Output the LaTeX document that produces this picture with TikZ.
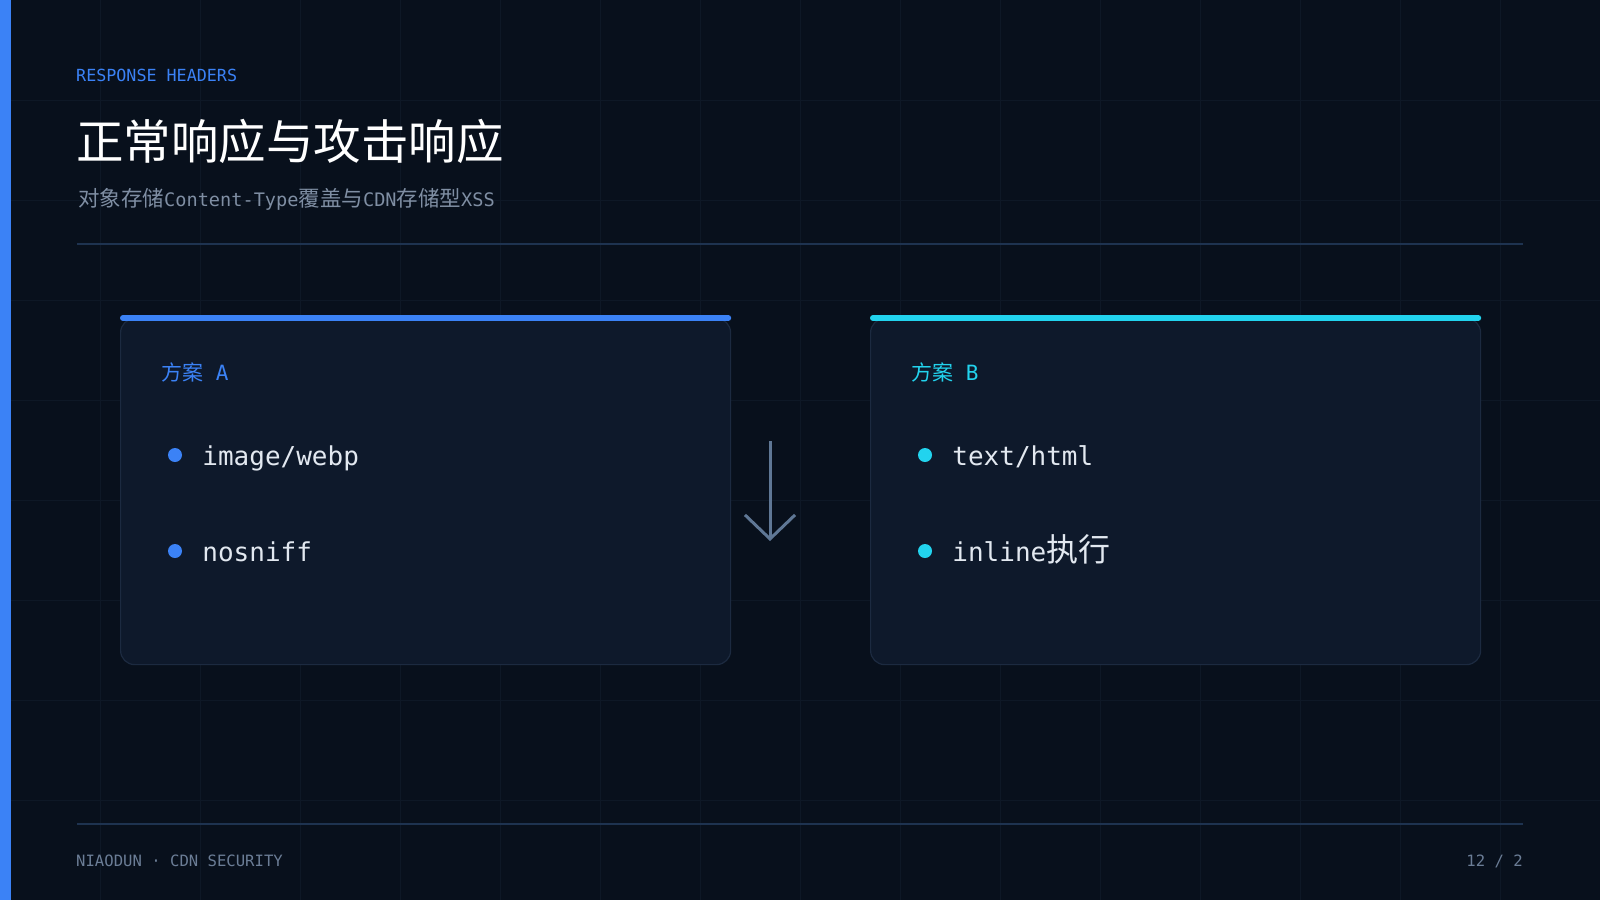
\documentclass[tikz,border=0pt]{standalone}
\usepackage{fontspec}
\setmonofont{DejaVu Sans Mono}
\newfontfamily\cjk{Noto Sans CJK SC}
\usetikzlibrary{arrows.meta, positioning}

\definecolor{pagebg}{HTML}{08101C}
\definecolor{gridcol}{HTML}{0E1826}
\definecolor{cardfill}{HTML}{0E192B}
\definecolor{cardline}{HTML}{1C2A40}
\definecolor{accentA}{HTML}{3B82F6}
\definecolor{accentB}{HTML}{22D3EE}
\definecolor{rulecol}{HTML}{1E3350}
\definecolor{subgray}{HTML}{7F8EA3}
\definecolor{footgray}{HTML}{6B7D96}
\definecolor{itemwhite}{HTML}{E2E8F0}
\definecolor{arrowcol}{HTML}{5F7795}

\newcommand{\fs}[1]{\fontsize{#1}{#1}\selectfont}

\begin{document}
\begin{tikzpicture}[x=1pt, y=-1pt,
    gridline/.style={gridcol, line width=1pt},
    cardbox/.style={draw=cardline, fill=cardfill, rounded corners=14pt, line width=1.2pt,
        minimum width=610pt, minimum height=346pt, anchor=north west},
    topbar/.style={line width=6pt, line cap=round, shorten <=3pt, shorten >=3pt},
    bulletdot/.style={circle, inner sep=0pt, minimum size=14pt},
    itemtext/.style={inner sep=0pt, anchor=base west, yshift=-10pt, text=itemwhite, font=\ttfamily\fs{26}},
    cardhead/.style={inner sep=0pt, anchor=west, font=\ttfamily\fs{21}},
    footnote/.style={inner sep=0pt, text=footgray, font=\ttfamily\fs{15.6}},
    flowarrow/.style={arrowcol, line width=3pt, -{Straight Barb[length=24pt, width=50pt]}}]
    \useasboundingbox (0,0) rectangle (1600,900);
    \fill[pagebg] (0,0) rectangle (1600,900);
    \foreach \x in {100,200,...,1500}
        \draw[gridline] (\x,0) -- (\x,900);
    \foreach \y in {100,200,...,800}
        \draw[gridline] (0,\y) -- (1600,\y);
    \fill[accentA] (0,0) rectangle (11,900);

    % header
    \node[inner sep=0pt, anchor=west, text=accentA, font=\ttfamily\fs{16.7}] (kicker) at (76,75) {RESPONSE HEADERS};
    \node[inner sep=0pt, anchor=west, text=white, font=\cjk\fs{47.5}] (title) at (76,141) {正常响应与攻击响应};
    \node[inner sep=0pt, anchor=west, text=subgray, font=\ttfamily\fs{18.6}] (subtitle) at (78,199)
        {{\cjk\fs{21.5}对象存储}Content-Type{\cjk\fs{21.5}覆盖与}CDN{\cjk\fs{21.5}存储型}XSS};
    \coordinate (ruleL) at (77,244);
    \coordinate (ruleR) at (1523,244);
    \draw[rulecol, line width=1.5pt] (ruleL) -- (ruleR);

    % card A
    \node[cardbox] (cardA) at (120,318) {};
    \draw[topbar, accentA] (cardA.north west) -- (cardA.north east);
    \node[cardhead, text=accentA] (headA) at (161,372) {{\cjk 方案} A};
    \node[bulletdot, fill=accentA] (dotA1) at (175,455) {};
    \node[right=20pt of dotA1, itemtext] (itemA1) {image/webp};
    \node[bulletdot, fill=accentA] (dotA2) at (175,551) {};
    \node[right=20pt of dotA2, itemtext] (itemA2) {nosniff};

    % card B
    \node[cardbox] (cardB) at (870,318) {};
    \draw[topbar, accentB] (cardB.north west) -- (cardB.north east);
    \node[cardhead, text=accentB] (headB) at (911,372) {{\cjk 方案} B};
    \node[bulletdot, fill=accentB] (dotB1) at (925,455) {};
    \node[right=20pt of dotB1, itemtext] (itemB1) {text/html};
    \node[bulletdot, fill=accentB] (dotB2) at (925,551) {};
    \node[right=20pt of dotB2, itemtext] (itemB2) {inline{\cjk\fs{32}执行}};

    % arrow between the cards
    \coordinate (arrtop) at (770,441);
    \coordinate (arrbot) at (770,541);
    \draw[flowarrow] (arrtop) -- (arrbot);

    % footer
    \coordinate (footL) at (77,824);
    \coordinate (footR) at (1523,824);
    \draw[rulecol, line width=1.5pt] (footL) -- (footR);
    \node[footnote, anchor=west] (brand) at (76,861) {NIAODUN · CDN SECURITY};
    \node[footnote, anchor=east] (pageno) at (1523,861) {12 / 2};
\end{tikzpicture}
\end{document}
